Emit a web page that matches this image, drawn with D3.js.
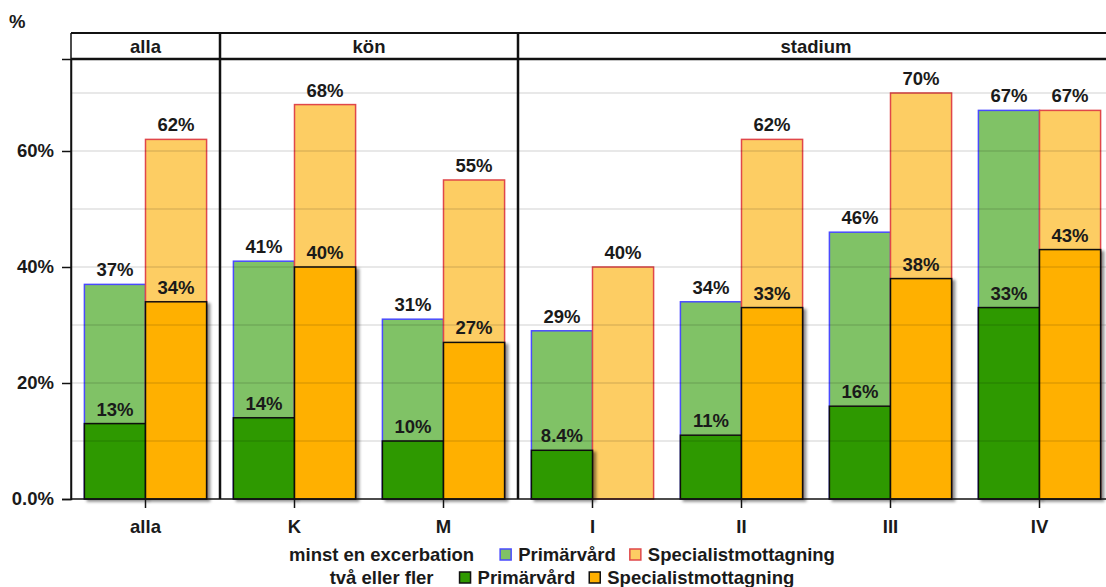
<!DOCTYPE html>
<html>
<head>
<meta charset="utf-8">
<script src="https://cdn.jsdelivr.net/npm/d3@7"></script>
<style>
  html, body { margin: 0; padding: 0; background: #fff; }
  svg { display: block; font-family: "Liberation Sans", Arial, sans-serif; font-weight: bold; }
</style>
</head>
<body>
<svg id="chart" width="1106" height="587"></svg>
<script>
// Panels (strip titles) and the categories that belong to each
const panels = ["alla", "kön", "stadium"];
const categories = ["alla", "K", "M", "I", "II", "III", "IV"];
const panelOf = ["alla", "kön", "kön", "stadium", "stadium", "stadium", "stadium"];

// Share of patients (%) — at least one exacerbation
const minstPrimar = [37, 41, 31, 29, 34, 46, 67];
const minstSpecialist = [62, 68, 55, 40, 62, 70, 67];
// Share of patients (%) — two or more exacerbations
const tvaPrimar = [13, 14, 10, 8.4, 11, 16, 33];
const tvaSpecialist = [34, 40, 27, 0, 33, 38, 43];

const yTicks = [0, 20, 40, 60];
const yGrid = [10, 20, 30, 40, 50, 60, 70];
const yTickLabels = ["0.0%", "20%", "40%", "60%"];

const legendRows = [
  { title: "minst en excerbation", items: [
    { label: "Primärvård", fill: "#80c266", stroke: "#4a4aff" },
    { label: "Specialistmottagning", fill: "#fdcd63", stroke: "#e0474a" } ] },
  { title: "två eller fler", items: [
    { label: "Primärvård", fill: "#2f9900", stroke: "#111" },
    { label: "Specialistmottagning", fill: "#ffb000", stroke: "#111" } ] }
];

const FS = 18.5;
const svg = d3.select("#chart");
const plotLeft = 71, plotRight = 1114, plotTop = 59, plotBottom = 499, stripTop = 33;

const x = d3.scaleBand().domain(categories).range([plotLeft, plotRight]).padding(0);
const y = d3.scaleLinear().domain([0, 75.86]).range([plotBottom, plotTop]);
const barW = x.bandwidth() * 0.41;
const cx = c => x(c) + x.bandwidth() / 2;

// Drop shadow under the "two or more" bars
const defs = svg.append("defs");
const f = defs.append("filter").attr("id", "shadow")
  .attr("x", "-20%").attr("y", "-20%").attr("width", "150%").attr("height", "150%");
f.append("feDropShadow").attr("dx", 3).attr("dy", 2).attr("stdDeviation", 1.5)
  .attr("flood-color", "#000").attr("flood-opacity", 0.45);

// Panel extents
const panelRange = panels.map(p => {
  const cats = categories.filter((c, i) => panelOf[i] === p);
  return { name: p, x0: x(cats[0]), x1: x(cats[cats.length - 1]) + x.bandwidth() };
});

const rows = categories.map((c, i) => ({
  c, mp: minstPrimar[i], ms: minstSpecialist[i], tp: tvaPrimar[i], ts: tvaSpecialist[i]
}));

const fmt = v => (v < 10 ? d3.format(".1f")(v) : d3.format(".0f")(v)) + "%";

const plot = svg.append("g");

// Light bars: at least one exacerbation
plot.selectAll(".lp").data(rows).join("rect")
  .attr("x", d => cx(d.c) - barW).attr("width", barW)
  .attr("y", d => y(d.mp)).attr("height", d => y(0) - y(d.mp))
  .attr("fill", "#80c266").attr("stroke", "#4a4aff").attr("stroke-width", 1.5);
plot.selectAll(".ls").data(rows).join("rect")
  .attr("x", d => cx(d.c)).attr("width", barW)
  .attr("y", d => y(d.ms)).attr("height", d => y(0) - y(d.ms))
  .attr("fill", "#fdcd63").attr("stroke", "#e0474a").attr("stroke-width", 1.5);

// Dark bars: two or more exacerbations
plot.selectAll(".dp").data(rows.filter(d => d.tp > 0)).join("rect")
  .attr("x", d => cx(d.c) - barW).attr("width", barW)
  .attr("y", d => y(d.tp)).attr("height", d => y(0) - y(d.tp))
  .attr("fill", "#2f9900").attr("stroke", "#111").attr("stroke-width", 1.5)
  .attr("filter", "url(#shadow)");
plot.selectAll(".ds").data(rows.filter(d => d.ts > 0)).join("rect")
  .attr("x", d => cx(d.c)).attr("width", barW)
  .attr("y", d => y(d.ts)).attr("height", d => y(0) - y(d.ts))
  .attr("fill", "#ffb000").attr("stroke", "#111").attr("stroke-width", 1.5)
  .attr("filter", "url(#shadow)");

// Reference grid over the bars
plot.selectAll(".grid").data(yGrid).join("line")
  .attr("x1", plotLeft).attr("x2", plotRight)
  .attr("y1", d => y(d)).attr("y2", d => y(d))
  .attr("stroke", "#000").attr("stroke-opacity", 0.12).attr("stroke-width", 1.5);

// Value labels
const labels = [];
rows.forEach(d => {
  labels.push({ x: cx(d.c) - barW / 2, v: d.mp });
  labels.push({ x: cx(d.c) + barW / 2, v: d.ms });
  if (d.tp > 0) labels.push({ x: cx(d.c) - barW / 2, v: d.tp });
  if (d.ts > 0) labels.push({ x: cx(d.c) + barW / 2, v: d.ts });
});
plot.selectAll(".val").data(labels).join("text")
  .attr("x", d => d.x).attr("y", d => y(d.v) - 8)
  .attr("text-anchor", "middle").attr("font-size", FS).attr("fill", "#1a1a1a")
  .text(d => fmt(d.v));

// Y axis
const yAxis = svg.append("g").attr("transform", `translate(${plotLeft},0)`)
  .call(d3.axisLeft(y).tickValues(yTicks).tickSize(9).tickPadding(8)
    .tickFormat((d, i) => yTickLabels[i]));
yAxis.select(".domain").attr("stroke", "#111").attr("stroke-width", 1.5);
yAxis.selectAll(".tick line").attr("stroke", "#111").attr("stroke-width", 1.5);
yAxis.selectAll("text").attr("font-size", FS).attr("font-family", "Liberation Sans, Arial, sans-serif")
  .attr("font-weight", "bold").attr("fill", "#1a1a1a");

// X axis
const xAxis = svg.append("g").attr("transform", `translate(0,${plotBottom})`)
  .call(d3.axisBottom(x).tickSize(9).tickPadding(12));
xAxis.select(".domain").remove();
xAxis.selectAll(".tick line").attr("stroke", "#111").attr("stroke-width", 1.5);
xAxis.selectAll("text").attr("font-size", FS).attr("font-family", "Liberation Sans, Arial, sans-serif")
  .attr("font-weight", "bold").attr("fill", "#1a1a1a");
svg.append("line").attr("x1", plotLeft).attr("x2", plotRight).attr("y1", plotBottom).attr("y2", plotBottom)
  .attr("stroke", "#111").attr("stroke-width", 1.5);

// Strips and panel frames
const strip = svg.append("g");
strip.append("line").attr("x1", plotLeft).attr("x2", plotRight).attr("y1", stripTop).attr("y2", stripTop)
  .attr("stroke", "#111").attr("stroke-width", 2.2);
strip.append("line").attr("x1", plotLeft).attr("x2", plotRight).attr("y1", plotTop).attr("y2", plotTop)
  .attr("stroke", "#111").attr("stroke-width", 2.5);
strip.selectAll(".div").data(panelRange.slice(1)).join("line")
  .attr("x1", d => d.x0).attr("x2", d => d.x0).attr("y1", stripTop).attr("y2", plotBottom)
  .attr("stroke", "#111").attr("stroke-width", 2.5);
strip.append("line").attr("x1", plotLeft).attr("x2", plotLeft).attr("y1", stripTop).attr("y2", plotBottom)
  .attr("stroke", "#111").attr("stroke-width", 1.5);
strip.selectAll(".title").data(panelRange).join("text")
  .attr("x", d => (d.x0 + d.x1) / 2).attr("y", (stripTop + plotTop) / 2 + 7)
  .attr("text-anchor", "middle").attr("font-size", FS).attr("fill", "#1a1a1a")
  .text(d => d.name);

// Y unit
svg.append("text").attr("x", 9).attr("y", 28).attr("font-size", FS).attr("fill", "#1a1a1a").text("%");

// Legend
const legendCenter = 562;
const legendBase = [561, 584];
legendRows.forEach((row, ri) => {
  const g = svg.append("g");
  let cur = 0;
  const yb = legendBase[ri];
  const t = g.append("text").attr("x", cur).attr("y", yb).attr("font-size", FS)
    .attr("fill", "#1a1a1a").text(row.title);
  cur += t.node().getComputedTextLength() + 26;
  row.items.forEach((it, k) => {
    g.append("rect").attr("x", cur).attr("y", yb - 12).attr("width", 11).attr("height", 11)
      .attr("fill", it.fill).attr("stroke", it.stroke).attr("stroke-width", 1.5);
    cur += 11 + 7;
    const lt = g.append("text").attr("x", cur).attr("y", yb).attr("font-size", FS)
      .attr("fill", "#1a1a1a").text(it.label);
    cur += lt.node().getComputedTextLength() + (k < row.items.length - 1 ? 14 : 0);
  });
  g.attr("transform", `translate(${legendCenter - cur / 2},0)`);
});
</script>
</body>
</html>
